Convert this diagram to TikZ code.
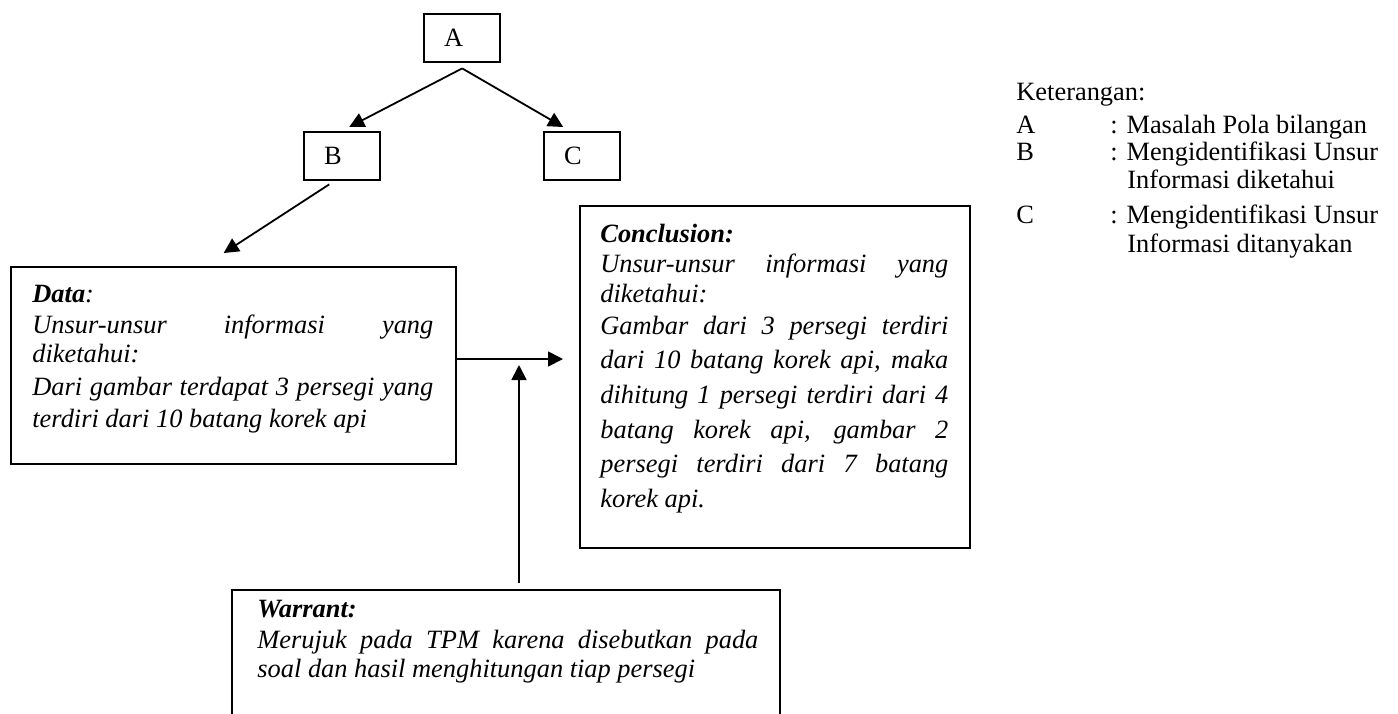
\documentclass[tikz,border=0pt]{standalone}
\usepackage{fontspec}
\setmainfont{Liberation Serif}
\usetikzlibrary{arrows.meta}
% a line of text stretched to the given width
\newcommand\jstline[2]{\makebox[#1][s]{#2}}
\begin{document}
\begin{tikzpicture}[x=0.5pt,y=-0.5pt,
  box/.style={draw, line width=1.2pt, inner sep=0pt, anchor=north west},
  letterbox/.style={box, minimum width=38pt, minimum height=24pt,
    inner xsep=10pt, text width=18pt, align=left,
    font=\fontsize{13.2pt}{15pt}\selectfont},
  conn/.style={line width=0.9pt, -{Triangle[length=7.5pt,width=7.5pt]}},
  txt/.style={inner sep=0pt, anchor=base west,
    font=\fontsize{13.2pt}{15pt}\selectfont\itshape},
  leg/.style={inner sep=0pt, anchor=base west,
    font=\fontsize{13.2pt}{15pt}\selectfont},
]
\clip (0,0) rectangle (1398,713);

% tree of letter boxes
\node[letterbox] (A) at (423,13) {A};
\node[letterbox] (B) at (303,131) {B};
\node[letterbox] (C) at (543,131) {C};

% argument boxes
\node[box, minimum width=222.5pt, minimum height=98.5pt] (data) at (10,266) {};
\node[box, minimum width=195pt, minimum height=171pt] (concl) at (579,205) {};
\node[box, minimum width=274pt, minimum height=80pt] (warrant) at (231,589) {};

% Data text
\node[txt] (d1) at (32,302) {\textbf{Data}:};
\node[txt] (d2) at (32,333) {\jstline{200.5pt}{Unsur-unsur informasi yang}};
\node[txt] (d3) at (32,362) {diketahui:};
\node[txt] (d4) at (32,395) {\jstline{200.5pt}{Dari gambar terdapat 3 persegi yang}};
\node[txt] (d5) at (32,427) {terdiri dari 10 batang korek api};

% Conclusion text
\node[txt] (c1) at (600,242) {\textbf{Conclusion:}};
\node[txt] (c2) at (600,272) {\jstline{174pt}{Unsur-unsur informasi yang}};
\node[txt] (c3) at (600,302) {diketahui:};
\node[txt] (c4) at (600,334) {\jstline{174pt}{Gambar dari 3 persegi terdiri}};
\node[txt] (c5) at (600,368) {\jstline{174pt}{dari 10 batang korek api, maka}};
\node[txt] (c6) at (600,403) {\jstline{174pt}{dihitung 1 persegi terdiri dari 4}};
\node[txt] (c7) at (600,438) {\jstline{174pt}{batang korek api, gambar 2}};
\node[txt] (c8) at (600,472) {\jstline{174pt}{persegi terdiri dari 7 batang}};
\node[txt] (c9) at (600,507) {korek api.};

% Warrant text
\node[txt] (w1) at (257,617) {\textbf{Warrant:}};
\node[txt] (w2) at (257,648) {\jstline{250.5pt}{Merujuk pada TPM karena disebutkan pada}};
\node[txt] (w3) at (257,677) {soal dan hasil menghitungan tiap persegi};

% legend
\node[leg] (k0) at (1016,100) {Keterangan:};
\node[leg] (kA) at (1016,133) {A};
\node[leg] (kAt) at (1110,133) {: Masalah Pola bilangan};
\node[leg] (kB) at (1016,160) {B};
\node[leg] (kBt) at (1110,160) {: Mengidentifikasi Unsur};
\node[leg] (kBu) at (1127,188) {Informasi diketahui};
\node[leg] (kC) at (1016,223) {C};
\node[leg] (kCt) at (1110,223) {: Mengidentifikasi Unsur};
\node[leg] (kCu) at (1127,252) {Informasi ditanyakan};

% connectors
\draw[conn] ([yshift=-2.5pt]A.south) -- ([xshift=3.5pt,yshift=2pt]B.north);
\draw[conn] ([yshift=-2.5pt]A.south) -- ([xshift=-9.5pt,yshift=2pt]C.north);
\draw[conn] ([xshift=-6.5pt,yshift=-1.5pt]B.south) -- ([xshift=-5pt,yshift=6.5pt]data.north);

\coordinate (dtip) at (563,359);
\coordinate (dbase) at (data.east |- dtip);
\draw[conn] (dbase) -- (dtip);

\coordinate (wtip) at (519,365);
\coordinate (wbase) at (wtip |- warrant.north);
\draw[conn] ([yshift=3pt]wbase) -- (wtip);
\end{tikzpicture}
\end{document}
